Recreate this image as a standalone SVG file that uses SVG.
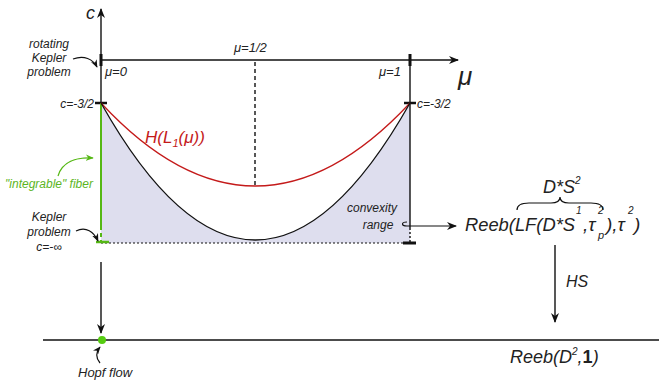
<svg xmlns="http://www.w3.org/2000/svg" width="659" height="383" viewBox="0 0 659 383">
<style>
.t{font-family:"Liberation Sans","DejaVu Sans",sans-serif;font-style:italic;fill:#222}
.ln{stroke:#111;stroke-width:1.4;fill:none}
.tk{stroke:#111;stroke-width:3;fill:none}
.cv{stroke:#111;stroke-width:1.2;fill:none}
</style>
<defs>
<marker id="ah" viewBox="0 0 10 8" refX="9" refY="4" markerWidth="10" markerHeight="8" orient="auto" markerUnits="userSpaceOnUse"><path d="M0,0 L10,4 L0,8 L3,4z" fill="#111"/></marker>
<marker id="sh" viewBox="0 0 10 8" refX="9" refY="4" markerWidth="8" markerHeight="7" orient="auto" markerUnits="userSpaceOnUse"><path d="M0,0 L10,4 L0,8 L3,4z" fill="#111"/></marker>
<marker id="gh" viewBox="0 0 10 8" refX="9" refY="4" markerWidth="8" markerHeight="7" orient="auto" markerUnits="userSpaceOnUse"><path d="M0,0 L10,4 L0,8 L3,4z" fill="#55b814"/></marker>
</defs>
<rect width="659" height="383" fill="#fff"/>

<g id="region">
<path d="M101,103 Q255,377 410,103 L410,243 L101,243 Z" fill="#dedeee"/>
</g>

<g id="axes">
<line class="ln" x1="101" y1="103" x2="101" y2="9" marker-end="url(#ah)"/>
<line class="ln" x1="101" y1="60" x2="458" y2="60" marker-end="url(#ah)"/>
<line class="ln" x1="410" y1="60" x2="410" y2="228"/>
<line class="ln" x1="410" y1="228" x2="410" y2="243" stroke-dasharray="2,2"/>
<line class="ln" x1="255" y1="62" x2="255" y2="186" stroke-dasharray="4,3"/>
<line x1="101" y1="243" x2="404" y2="243" stroke="#111" stroke-width="1.2" stroke-dasharray="2,2"/>
<line class="tk" x1="101" y1="54" x2="101" y2="66"/>
<line class="tk" x1="410" y1="54" x2="410" y2="66"/>
<line x1="95" y1="103" x2="107" y2="103" stroke="#111" stroke-width="2.5"/>
<line x1="404" y1="103" x2="416" y2="103" stroke="#111" stroke-width="2.5"/>
<line class="tk" x1="403" y1="243" x2="416" y2="243"/>
<line x1="43" y1="340" x2="659" y2="340" stroke="#111" stroke-width="1.4"/>
</g>

<g id="fiber">
<line x1="101" y1="103" x2="101" y2="226" stroke="#55b814" stroke-width="2"/>
<line x1="101" y1="226" x2="101" y2="242" stroke="#55b814" stroke-width="2" stroke-dasharray="4,3"/>
<line x1="96" y1="242" x2="109" y2="242" stroke="#55b814" stroke-width="2.5"/>
</g>

<g id="curves">
<path d="M101,103 Q255,269 410,103" fill="none" stroke="#c41a1a" stroke-width="1.3"/>
<path d="M101,103 Q255,377 410,103" fill="none" stroke="#111" stroke-width="1.3"/>
</g>

<g id="hopf">
<circle cx="102" cy="340" r="4" fill="#55cc11"/>
</g>

<g id="connectors">
<line class="ln" x1="101" y1="262" x2="101" y2="333" marker-end="url(#ah)"/>
<line class="ln" x1="555" y1="245" x2="555" y2="322" marker-end="url(#ah)"/>
<path class="cv" d="M73,59 C84,55 93,59 97,67" marker-end="url(#sh)"/>
<path d="M58,176 C62,162 76,157 93,158" fill="none" stroke="#55b814" stroke-width="1.2" marker-end="url(#gh)"/>
<path class="cv" d="M76,231 C86,226 94,232 98,241" marker-end="url(#sh)"/>
<path class="cv" d="M100,363 C95,357 96,352 100,347" marker-end="url(#sh)"/>
<path class="cv" d="M407,222 C401,222 401,226 407,226 L456,226" marker-end="url(#ah)"/>
<path class="cv" d="M517,210 Q517,203 529,203 L551,203 Q560,203 560,197 Q560,203 569,203 L591,203 Q603,203 603,210"/>
</g>

<g id="labels">
<text class="t" x="95" y="19" font-size="18" text-anchor="end">c</text>
<text class="t" font-size="12" text-anchor="middle"><tspan x="49" y="48">rotating</tspan><tspan x="49" y="62">Kepler</tspan><tspan x="49" y="76">problem</tspan></text>
<text class="t" x="105" y="76" font-size="13">μ=0</text>
<text class="t" x="234" y="52" font-size="13">μ=1/2</text>
<text class="t" x="379" y="76" font-size="13">μ=1</text>
<text class="t" x="458" y="85" font-size="26">μ</text>
<text class="t" x="94" y="108" font-size="12" text-anchor="end">c=-3/2</text>
<text class="t" x="417" y="108" font-size="12">c=-3/2</text>
<text class="t" x="145" y="143" font-size="17" style="fill:#c41a1a">H(L<tspan font-size="11" dy="4">1</tspan><tspan dy="-4">(μ))</tspan></text>
<text class="t" x="49" y="188" font-size="12" text-anchor="middle" style="fill:#5cb51e">"integrable" fiber</text>
<text class="t" font-size="12" text-anchor="middle"><tspan x="49" y="221">Kepler</tspan><tspan x="49" y="236">problem</tspan><tspan x="49" y="251">c=-∞</tspan></text>
<text class="t" font-size="12" text-anchor="middle"><tspan x="372" y="212">convexity</tspan><tspan x="378" y="229">range</tspan></text>
<text class="t" x="543" y="193" font-size="18">D*S<tspan font-size="10" dy="-9">2</tspan></text>
<text class="t" x="465" y="231" font-size="19" textLength="110" lengthAdjust="spacingAndGlyphs">Reeb(LF(D*S</text>
<text class="t" x="576" y="214" font-size="10">1</text>
<text class="t" x="583" y="231" font-size="19">,τ</text>
<text class="t" x="598" y="214" font-size="10">2</text>
<text class="t" x="598" y="239" font-size="11">p</text>
<text class="t" x="606" y="231" font-size="19">),τ</text>
<text class="t" x="628" y="214" font-size="10">2</text>
<text class="t" x="634" y="231" font-size="19">)</text>
<text class="t" x="566" y="287" font-size="16">HS</text>
<text class="t" x="510" y="363" font-size="18">Reeb(D<tspan font-size="10" dy="-8">2</tspan><tspan dy="8">,</tspan><tspan font-style="normal" font-weight="bold">1</tspan>)</text>
<text class="t" x="78" y="377" font-size="13">Hopf flow</text>
</g>
</svg>
